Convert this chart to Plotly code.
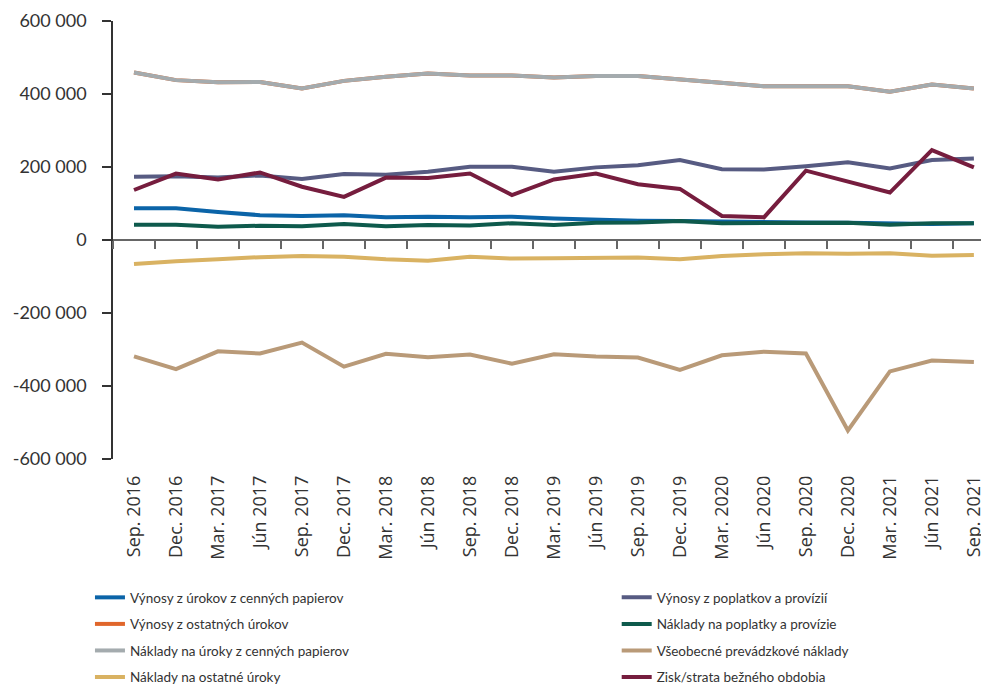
import plotly.graph_objects as go

categories = ["Sep. 2016", "Dec. 2016", "Mar. 2017", "Jún 2017", "Sep. 2017", "Dec. 2017",
              "Mar. 2018", "Jún 2018", "Sep. 2018", "Dec. 2018", "Mar. 2019", "Jún 2019",
              "Sep. 2019", "Dec. 2019", "Mar. 2020", "Jún 2020", "Sep. 2020", "Dec. 2020",
              "Mar. 2021", "Jún 2021", "Sep. 2021"]

vynosy_urokov_cp = [87000, 87000, 77000, 68000, 66000, 68000, 62000, 64000, 62000, 64000, 59000,
                    55000, 53000, 52000, 50000, 49000, 48000, 47000, 46000, 44000, 46000]
vynosy_poplatkov = [173000, 175000, 171000, 177000, 167000, 181000, 179000, 187000, 201000, 201000, 187000,
                    199000, 205000, 219000, 194000, 193000, 202000, 213000, 196000, 219000, 223000]
vynosy_ostatnych_urokov = [459000, 438000, 432000, 433000, 415000, 436000, 447000, 456000, 451000, 451000, 445000,
                           449000, 449000, 440000, 429000, 421000, 421000, 421000, 406000, 426000, 415000]
naklady_poplatky = [42000, 42000, 36000, 39000, 38000, 44000, 38000, 41000, 40000, 46000, 41000,
                    47000, 48000, 52000, 46000, 46000, 47000, 47000, 42000, 46000, 46000]
naklady_uroky_cp = [459000, 438000, 432000, 433000, 415000, 436000, 447000, 456000, 451000, 451000, 445000,
                    449000, 449000, 440000, 429000, 421000, 421000, 421000, 406000, 426000, 415000]
vseobecne_naklady = [-319000, -354000, -305000, -311000, -281000, -347000, -312000, -321000, -314000, -339000, -313000,
                     -319000, -322000, -356000, -316000, -306000, -311000, -522000, -360000, -330000, -334000]
naklady_ostatne_uroky = [-66000, -58000, -53000, -47000, -44000, -46000, -53000, -57000, -46000, -51000, -50000,
                         -48000, -48000, -53000, -44000, -39000, -36000, -38000, -36000, -43000, -41000]
zisk_strata = [137000, 182000, 166000, 185000, 146000, 118000, 171000, 170000, 182000, 123000, 166000,
               182000, 153000, 140000, 66000, 62000, 190000, 160000, 130000, 246000, 199000]

y_ticks = [600000, 400000, 200000, 0, -200000, -400000, -600000]
y_tick_labels = ["600 000", "400 000", "200 000", "0", "-200 000", "-400 000", "-600 000"]

# (name, values, colour, legend column) -- drawing order keeps orange under grey
series = [
    ("Výnosy z úrokov z cenných papierov", vynosy_urokov_cp, "#0b64a8", "legend"),
    ("Výnosy z poplatkov a provízií", vynosy_poplatkov, "#575b82", "legend2"),
    ("Výnosy z ostatných úrokov", vynosy_ostatnych_urokov, "#e0662b", "legend"),
    ("Náklady na poplatky a provízie", naklady_poplatky, "#0e5a4c", "legend2"),
    ("Náklady na úroky z cenných papierov", naklady_uroky_cp, "#a4abae", "legend"),
    ("Všeobecné prevádzkové náklady", vseobecne_naklady, "#b99a78", "legend2"),
    ("Náklady na ostatné úroky", naklady_ostatne_uroky, "#d9b262", "legend"),
    ("Zisk/strata bežného obdobia", zisk_strata, "#761d3e", "legend2"),
]

fig = go.Figure()
for k, (name, vals, color, leg) in enumerate(series):
    fig.add_trace(go.Scatter(x=categories, y=vals, name=name, mode="lines",
                             legend=leg, legendgroup="g%d" % k,
                             line=dict(color=color, width=4)))

# helper trace for the zero-crossing category axis
fig.add_trace(go.Scatter(x=categories, y=[None] * len(categories), xaxis="x2",
                         showlegend=False, hoverinfo="skip", mode="lines"))

font_main = "Lato, 'Open Sans', sans-serif"
font_xtick = "'Open Sans', Lato, sans-serif"
legend_font = dict(family=font_main, size=13.5, color="#333333")

# page body has an 8px margin, so the figure is sized/offset to land on the 989x688 view
fig.update_layout(
    width=981, height=680,
    margin=dict(l=105, r=0, t=13, b=229, autoexpand=False),
    paper_bgcolor="white", plot_bgcolor="white",
    font=dict(family=font_main, size=18, color="#333333"),
    showlegend=True,
    legend=dict(
        orientation="v", xref="paper", yref="paper",
        x=-0.0263, y=-0.281, xanchor="left", yanchor="top",
        font=legend_font, tracegroupgap=6, bgcolor="rgba(0,0,0,0)",
    ),
    legend2=dict(
        orientation="v", xref="paper", yref="paper",
        x=0.575, y=-0.281, xanchor="left", yanchor="top",
        font=legend_font, tracegroupgap=6, bgcolor="rgba(0,0,0,0)",
    ),
    xaxis=dict(
        type="category", categoryorder="array", categoryarray=categories,
        range=[-0.5, 20.36],
        showline=False, showgrid=False, zeroline=False,
        ticks="", tickangle=-90, ticklabelstandoff=12,
        tickfont=dict(family=font_xtick, size=18, color="#333333"),
        automargin=False,
    ),
    xaxis2=dict(
        type="category", categoryorder="array", categoryarray=categories,
        overlaying="x", matches="x", anchor="free", position=0.5,
        range=[-0.5, 20.36],
        showline=True, linecolor="#666666", linewidth=1.5,
        ticks="outside", tickson="boundaries", ticklen=8, tickcolor="#666666", tickwidth=1.5,
        showticklabels=False, showgrid=False, zeroline=False,
        automargin=False,
    ),
    yaxis=dict(
        range=[-600000, 600000],
        tickmode="array", tickvals=y_ticks, ticktext=y_tick_labels,
        showline=True, linecolor="#333333", linewidth=1.5,
        ticks="outside", ticklen=9, tickcolor="#333333", tickwidth=1.5,
        ticklabelstandoff=12,
        showgrid=False, zeroline=False,
        tickfont=dict(family=font_main, size=18, color="#333333"),
        automargin=False,
    ),
)

fig.write_html("out.html")
